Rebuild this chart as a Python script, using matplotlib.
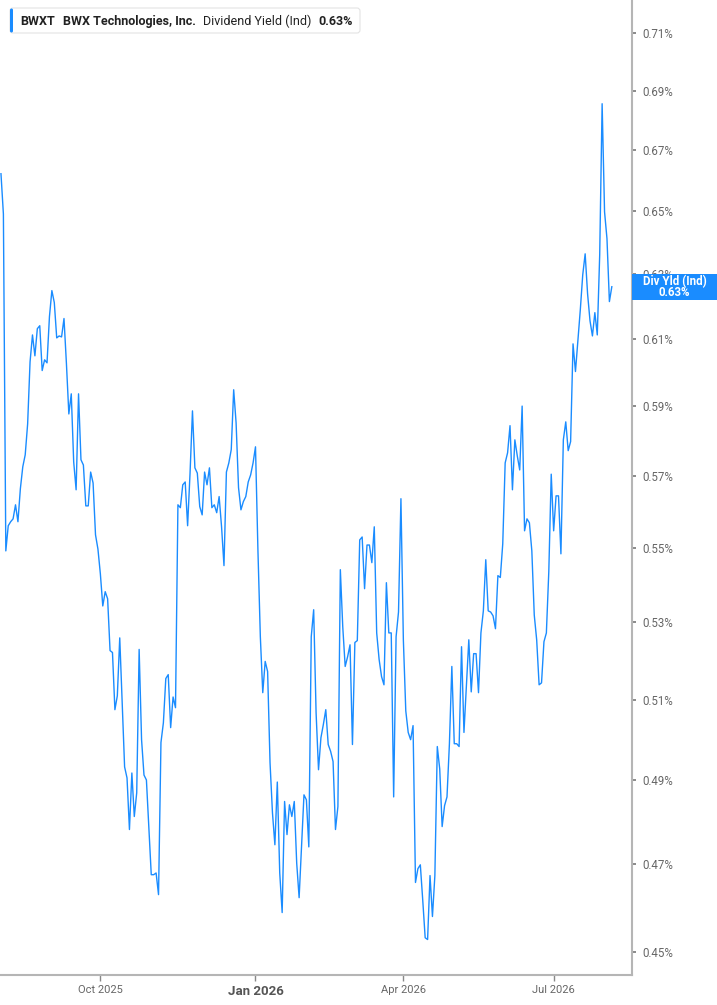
import numpy as np
import pandas as pd
import matplotlib
matplotlib.use("Agg")
import matplotlib.pyplot as plt
from matplotlib.patches import FancyBboxPatch, Rectangle
from matplotlib.transforms import IdentityTransform
from matplotlib.ticker import FixedLocator, NullLocator, NullFormatter

plt.rcParams['font.family'] = ['Roboto', 'DejaVu Sans']

# daily dividend yield (%), one value per NYSE trading day from 2025-08-04
start_date = "2025-08-04"
holidays = ["2025-09-01", "2025-11-27", "2025-12-25", "2026-01-01", "2026-01-19",
            "2026-02-16", "2026-04-03", "2026-05-25", "2026-06-19", "2026-07-03"]
div_yield = [
    0.6621, 0.6490, 0.5491, 0.5560, 0.5571, 0.5579, 0.5618, 0.5571, 0.5663, 0.5725,
    0.5759, 0.5848, 0.6031, 0.6112, 0.6049, 0.6131, 0.6140, 0.6005, 0.6037, 0.6028,
    0.6168, 0.6248, 0.6211, 0.6103, 0.6109, 0.6106, 0.6162, 0.6026, 0.5877, 0.5936,
    0.5739, 0.5660, 0.5936, 0.5745, 0.5730, 0.5615, 0.5615, 0.5710, 0.5679, 0.5535,
    0.5496, 0.5429, 0.5343, 0.5381, 0.5362, 0.5226, 0.5221, 0.5075, 0.5110, 0.5259,
    0.5095, 0.4933, 0.4906, 0.4782, 0.4918, 0.4813, 0.4870, 0.5229, 0.5000, 0.4913,
    0.4901, 0.4787, 0.4676, 0.4676, 0.4680, 0.4630, 0.4993, 0.5042, 0.5154, 0.5164,
    0.5030, 0.5107, 0.5080, 0.5618, 0.5610, 0.5674, 0.5682, 0.5560, 0.5707, 0.5886,
    0.5722, 0.5707, 0.5613, 0.5590, 0.5710, 0.5674, 0.5722, 0.5610, 0.5618, 0.5596,
    0.5641, 0.5557, 0.5451, 0.5710, 0.5736, 0.5774, 0.5948, 0.5851, 0.5666, 0.5604,
    0.5627, 0.5641, 0.5682, 0.5702, 0.5736, 0.5782, 0.5494, 0.5262, 0.5118, 0.5198,
    0.5172, 0.4943, 0.4822, 0.4746, 0.4896, 0.4680, 0.4589, 0.4849, 0.4770, 0.4841,
    0.4813, 0.4849, 0.4703, 0.4623, 0.4741, 0.4865, 0.4853, 0.4741, 0.5262, 0.5333,
    0.5067, 0.4926, 0.5005, 0.5038, 0.5075, 0.4988, 0.4971, 0.4946, 0.4782, 0.4837,
    0.5440, 0.5288, 0.5185, 0.5210, 0.5241, 0.4988, 0.5247, 0.5252, 0.5521, 0.5529,
    0.5389, 0.5507, 0.5507, 0.5459, 0.5557, 0.5272, 0.5203, 0.5159, 0.5138, 0.5405,
    0.5272, 0.5272, 0.4860, 0.5262, 0.5327, 0.5635, 0.5254, 0.5072, 0.5018, 0.5000,
    0.5035, 0.4658, 0.4690, 0.4699, 0.4617, 0.4532, 0.4528, 0.4674, 0.4580, 0.4674,
    0.4983, 0.4928, 0.4789, 0.4839, 0.4860, 0.4990, 0.5185, 0.4990, 0.4990, 0.4983,
    0.5236, 0.5018, 0.5136, 0.5254, 0.5120, 0.5218, 0.5218, 0.5118, 0.5272, 0.5330,
    0.5467, 0.5330, 0.5327, 0.5317, 0.5283, 0.5424, 0.5419, 0.5510, 0.5736, 0.5765,
    0.5843, 0.5660, 0.5802, 0.5756, 0.5716, 0.5900, 0.5546, 0.5579, 0.5568, 0.5491,
    0.5319, 0.5254, 0.5138, 0.5143, 0.5249, 0.5272, 0.5435, 0.5704, 0.5546, 0.5643,
    0.5643, 0.5483, 0.5802, 0.5854, 0.5771, 0.5797, 0.6085, 0.6002, 0.6094, 0.6189,
    0.6297, 0.6363, 0.6238, 0.6155, 0.6109, 0.6180, 0.6112, 0.6360, 0.6855, 0.6497,
    0.6411, 0.6214, 0.6260,
]
tick_months = ["2025-10-01", "2026-01-01", "2026-04-01", "2026-07-01"]
tick_labels = ["Oct 2025", "Jan 2026", "Apr 2026", "Jul 2026"]
y_ticks = [0.45, 0.47, 0.49, 0.51, 0.53, 0.55, 0.57, 0.59, 0.61, 0.63, 0.65, 0.67, 0.69, 0.71]

ticker = "BWXT"
company = "BWX Technologies, Inc."
metric = "Dividend Yield (Ind)"
blue = "#1a8cff"

dates = pd.bdate_range(start_date, periods=len(div_yield), freq="C", holidays=holidays)
x = np.arange(len(div_yield))
tick_pos = [int(np.searchsorted(dates, pd.Timestamp(m))) for m in tick_months]

W, H = 717, 1005
fig = plt.figure(figsize=(W / 100, H / 100), dpi=100)
ax = fig.add_axes([0, 30 / H, 631.7 / W, 975 / H])

ax.plot(x, div_yield, color=blue, lw=1.0)

ax.set_yscale("log")
ax.set_ylim(0.4449, 0.7217)
ax.set_xlim(-0.4, len(div_yield) + 7.2)

ax.yaxis.tick_right()
ax.yaxis.set_major_locator(FixedLocator(y_ticks))
ax.yaxis.set_minor_locator(NullLocator())
ax.yaxis.set_minor_formatter(NullFormatter())
ax.set_yticklabels([f"{v:.2f}%" for v in y_ticks])
ax.tick_params(axis="y", direction="out", length=3, width=1.2, color="#777777",
               labelsize=8.3, labelcolor="#666666", pad=5)

ax.set_xticks(tick_pos)
ax.set_xticklabels(tick_labels)
ax.tick_params(axis="x", direction="out", length=4, width=1, color="#888888",
               labelsize=8, labelcolor="#666666", pad=3)
for lbl in ax.get_xticklabels():
    if lbl.get_text().startswith("Jan"):
        lbl.set_fontweight("bold")
        lbl.set_fontsize(9.5)
        lbl.set_color("#555555")

for side in ["top", "left"]:
    ax.spines[side].set_visible(False)
for side in ["right", "bottom"]:
    ax.spines[side].set_color("#b5b5b5")
    ax.spines[side].set_linewidth(1.5)

# header legend
ident = IdentityTransform()
fig.add_artist(FancyBboxPatch((10, H - 33), 350, 25, boxstyle="round,pad=0,rounding_size=3",
                              transform=ident, fc="white", ec="#e3e3e3", lw=0.8))
fig.add_artist(FancyBboxPatch((10, H - 32.5), 3, 24, boxstyle="round,pad=0,rounding_size=1.5",
                              transform=ident, fc=blue, ec="none"))
hy = H - 21.5
fig.text(20, hy, ticker, transform=ident, fontsize=9, fontweight="bold", color="#222222", va="center")
fig.text(63, hy, company, transform=ident, fontsize=9, fontweight="bold", color="#222222", va="center")
fig.text(203, hy, metric, transform=ident, fontsize=9, color="#222222", va="center")
fig.text(318, hy, f"{div_yield[-1]:.2f}%", transform=ident, fontsize=9, fontweight="bold",
         color="#222222", va="center")

# last value label on the right axis (covers the nearby tick label, as in the source)
y_disp = ax.transData.transform((x[-1], div_yield[-1]))[1]
fig.add_artist(Rectangle((632, y_disp - 13), W - 632, 26, transform=ident, fc=blue, ec="none"))
fig.text(674.5, y_disp + 5.5, "Div Yld (Ind)", transform=ident, fontsize=8.3, fontweight="bold",
         color="white", ha="center", va="center")
fig.text(674.5, y_disp - 6, f"{div_yield[-1]:.2f}%", transform=ident, fontsize=8.3,
         fontweight="bold", color="white", ha="center", va="center")

fig.savefig("out.png", dpi=100)
